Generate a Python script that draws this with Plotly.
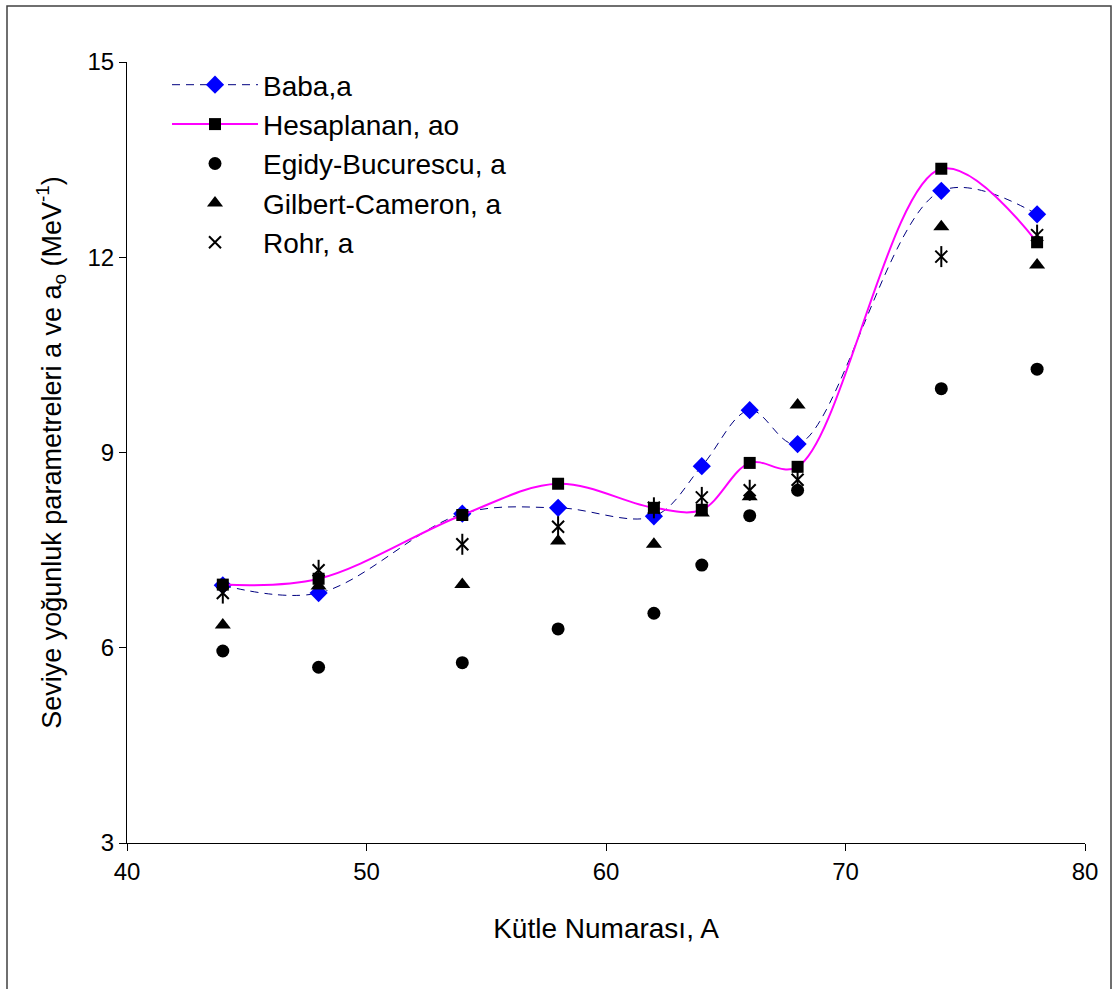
import plotly.graph_objects as go

A = [44, 48, 54, 58, 62, 64, 66, 68, 74, 78]
baba = [6.96, 6.84, 8.06, 8.15, 8.02, 8.79, 9.65, 9.13, 13.02, 12.66]
hesap = [6.97, 7.06, 8.04, 8.52, 8.15, 8.12, 8.84, 8.78, 13.36, 12.23]
egidy = [5.95, 5.70, 5.77, 6.29, 6.53, 7.27, 8.03, 8.42, 9.98, 10.28]
gilbert = [6.35, 6.95, 6.97, 7.64, 7.59, 8.07, 8.32, 9.73, 12.47, 11.88]
rohr = [6.84, 7.19, 7.59, 7.86, 8.15, 8.31, 8.42, 8.58, 12.01, 12.34]

FONT = "Liberation Sans, Arial, sans-serif"

fig = go.Figure()
fig.add_trace(go.Scatter(
    x=A, y=baba, name="Baba,a",
    mode="lines+markers",
    line=dict(color="#000080", width=1, dash="8px,6px", shape="spline", smoothing=1),
    marker=dict(symbol="diamond", size=14, color="#0000FF"),
))
fig.add_trace(go.Scatter(
    x=A, y=hesap, name="Hesaplanan, ao",
    mode="lines+markers",
    line=dict(color="#FF00FF", width=2, shape="spline", smoothing=1),
    marker=dict(symbol="square", size=12, color="#000000"),
))
fig.add_trace(go.Scatter(
    x=A, y=egidy, name="Egidy-Bucurescu, a",
    mode="markers",
    marker=dict(symbol="circle", size=13, color="#000000"),
))
fig.add_trace(go.Scatter(
    x=A, y=gilbert, name="Gilbert-Cameron, a",
    mode="markers",
    marker=dict(symbol="triangle-up", size=14, color="#000000"),
))
fig.add_trace(go.Scatter(
    x=A, y=rohr, name="Rohr, a",
    mode="markers",
    marker=dict(symbol="x-thin-open", size=12, color="#000000",
                line=dict(width=2, color="#000000")),
))
fig.add_trace(go.Scatter(
    x=A, y=rohr, name="Rohr, a", showlegend=False,
    mode="markers", hoverinfo="skip",
    marker=dict(symbol="line-ns-open", size=15, color="#000000",
                line=dict(width=2, color="#000000")),
))

W, H = 1114, 989
L, R, T, B = 127, 1085, 62, 843
pw, ph = R - L, B - T

def px(x):
    return (x - L) / pw

def py(y):
    return (B - y) / ph

fig.add_shape(type="rect", xref="paper", yref="paper",
              x0=px(7), x1=px(1111), y0=py(1000), y1=py(6),
              line=dict(color="#404040", width=1.5), fillcolor="rgba(0,0,0,0)",
              layer="below")

fig.update_layout(
    width=W, height=H,
    margin=dict(l=L, r=W - R, t=T, b=H - B),
    paper_bgcolor="white", plot_bgcolor="white",
    font=dict(family=FONT, color="black"),
    showlegend=True,
    legend=dict(
        x=px(167), y=py(60), xanchor="left", yanchor="top",
        font=dict(size=28, family=FONT, color="black"),
        bgcolor="rgba(0,0,0,0)",
        traceorder="normal",
        itemwidth=86,
    ),
    xaxis=dict(
        range=[40, 80], dtick=10, tick0=40,
        showline=True, linecolor="black", linewidth=1,
        ticks="outside", ticklen=7, tickcolor="black",
        showgrid=False, zeroline=False,
        tickfont=dict(size=24, family=FONT),
        title=dict(text="Kütle Numarası, A", font=dict(size=28, family=FONT), standoff=34),
    ),
    yaxis=dict(
        range=[3, 15], dtick=3, tick0=3,
        showline=True, linecolor="black", linewidth=1,
        ticks="outside", ticklen=7, tickcolor="black",
        showgrid=False, zeroline=False,
        tickfont=dict(size=24, family=FONT),
        title=dict(text="Seviye yoğunluk parametreleri a ve a<sub>o</sub> (MeV<sup>-1</sup>)",
                   font=dict(size=27, family=FONT), standoff=18),
    ),
)

fig.write_html("out.html")
